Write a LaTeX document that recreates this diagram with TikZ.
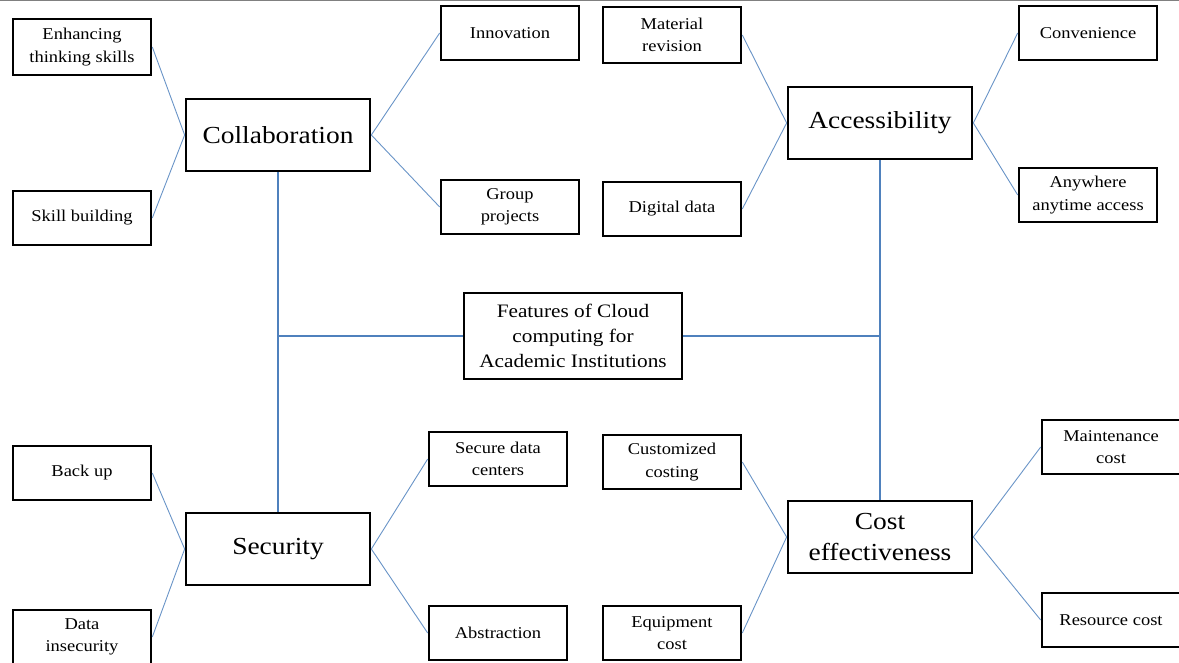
\documentclass[tikz,border=0pt]{standalone}
\usepackage{fontspec}
\setmainfont{Liberation Serif}[FakeStretch=1.12]
\usepackage{tikz}

\definecolor{linkblue}{RGB}{79,129,189}

\tikzset{
    leaf/.style={draw,line width=2.6pt,minimum width=138pt,minimum height=54pt,
        align=center,font=\fontsize{16.5}{22.5}\selectfont,inner sep=2pt},
    topic/.style={draw,line width=2.7pt,minimum width=184pt,minimum height=72pt,
        align=center,font=\fontsize{24.5}{31}\selectfont},
    link/.style={draw=linkblue!85,line width=0.9pt},
    trunk/.style={draw=linkblue,line width=1.6pt}
}

\begin{document}
\begin{tikzpicture}[x=1pt,y=-1pt]
    \useasboundingbox (0,0) rectangle (1179,663);
    % frame line at the top
    \draw[gray,line width=1.2pt] (0,0.6) -- (1179,0.6);

    % Centre
    \node[draw,line width=2.7pt,minimum width=218pt,minimum height=86pt,align=center,
        font=\fontsize{19}{25}\selectfont] (feat) at (573,336)
        {Features of Cloud\\computing for\\Academic Institutions};

    % Main topics
    \node[topic] (collab) at (278,135) {Collaboration};
    \node[topic] (access) at (880,123) {Accessibility};
    \node[topic] (secur) at (278,549) {Security};
    \node[topic] (cost) at (880,537) {Cost\\effectiveness};

    % Collaboration leaves
    \node[leaf,minimum height=56pt] (think) at (82,47) {Enhancing\\thinking skills};
    \node[leaf] (skill) at (82,218) {Skill building};
    \node[leaf] (innov) at (510,33) {Innovation};
    \node[leaf] (group) at (510,207) {Group\\projects};

    % Accessibility leaves
    \node[leaf,minimum height=56pt] (revis) at (672,35) {Material\\revision};
    \node[leaf] (digit) at (672,209) {Digital data};
    \node[leaf] (conv) at (1088,33) {Convenience};
    \node[leaf] (anyw) at (1088,195) {Anywhere\\anytime access};

    % Security leaves
    \node[leaf] (backup) at (82,473) {Back up};
    \node[leaf] (insec) at (82,637) {Data\\insecurity};
    \node[leaf] (centres) at (498,459) {Secure data\\centers};
    \node[leaf] (abstr) at (498,633) {Abstraction};

    % Cost effectiveness leaves
    \node[leaf] (custom) at (672,462) {Customized\\costing};
    \node[leaf] (equip) at (672,633) {Equipment\\cost};
    \node[leaf] (maint) at (1111,447) {Maintenance\\cost};
    \node[leaf] (resrc) at (1111,620) {Resource cost};

    % Trunk lines
    \coordinate (ljoin) at (collab |- feat);
    \coordinate (rjoin) at (access |- feat);
    \draw[trunk] (collab) -- (secur);
    \draw[trunk] (access) -- (cost);
    \draw[trunk] (feat) -- (ljoin);
    \draw[trunk] (feat) -- (rjoin);

    % Leaf links
    \draw[link] (think.east) -- (collab.west);
    \draw[link] (skill.east) -- (collab.west);
    \draw[link] (collab.east) -- (innov.west);
    \draw[link] (collab.east) -- (group.west);

    \draw[link] (revis.east) -- (access.west);
    \draw[link] (digit.east) -- (access.west);
    \draw[link] (access.east) -- (conv.west);
    \draw[link] (access.east) -- (anyw.west);

    \draw[link] (backup.east) -- (secur.west);
    \draw[link] (insec.east) -- (secur.west);
    \draw[link] (secur.east) -- (centres.west);
    \draw[link] (secur.east) -- (abstr.west);

    \draw[link] (custom.east) -- (cost.west);
    \draw[link] (equip.east) -- (cost.west);
    \draw[link] (cost.east) -- (maint.west);
    \draw[link] (cost.east) -- (resrc.west);
\end{tikzpicture}
\end{document}
